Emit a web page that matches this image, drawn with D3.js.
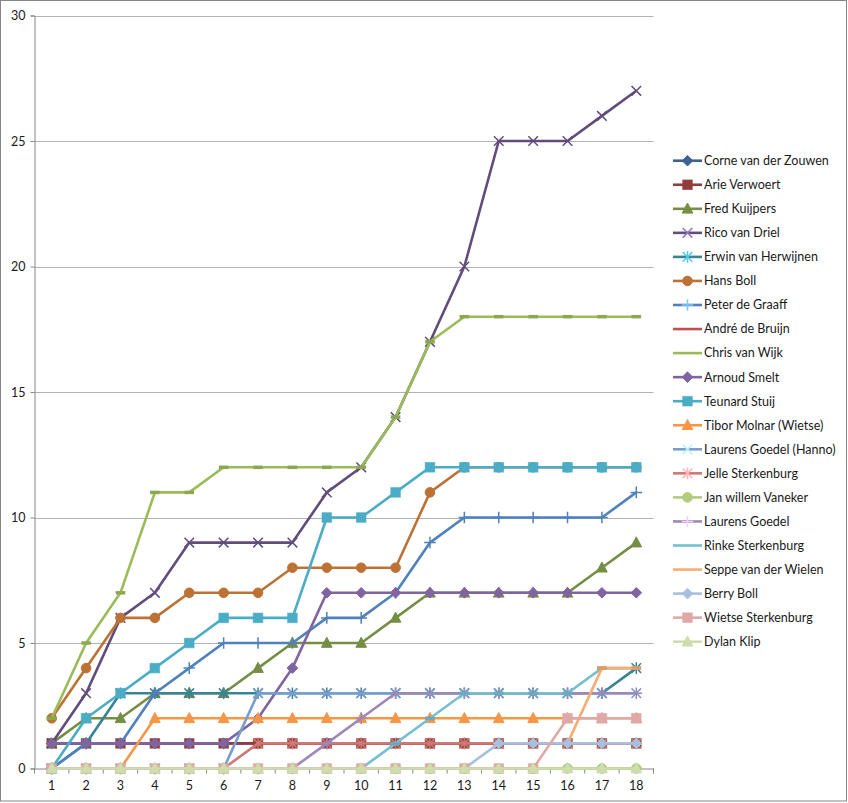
<!DOCTYPE html>
<html>
<head>
<meta charset="utf-8">
<script src="https://cdn.jsdelivr.net/npm/d3@7"></script>
<style>
  body { margin: 0; background: #fff; }
  svg text { font-family: Lato, "Noto Sans", sans-serif; fill: #1a1a1a; }
</style>
</head>
<body>
<div id="chart"></div>
<script>
// rounds 1..18
const categories = [1, 2, 3, 4, 5, 6, 7, 8, 9, 10, 11, 12, 13, 14, 15, 16, 17, 18]
const yTicks = [0, 5, 10, 15, 20, 25, 30]

const names = [
  "Corne van der Zouwen", "Arie Verwoert", "Fred Kuijpers", "Rico van Driel",
  "Erwin van Herwijnen", "Hans Boll", "Peter de Graaff", "André de Bruijn",
  "Chris van Wijk", "Arnoud Smelt", "Teunard Stuij", "Tibor Molnar (Wietse)",
  "Laurens Goedel (Hanno)", "Jelle Sterkenburg", "Jan willem Vaneker",
  "Laurens Goedel", "Rinke Sterkenburg", "Seppe van der Wielen", "Berry Boll",
  "Wietse Sterkenburg", "Dylan Klip"
]

const corne     = [1, 1, 1, 1, 1, 1, 1, 1, 1, 1, 1, 1, 1, 1, 1, 1, 1, 1]
const arie      = [1, 1, 1, 1, 1, 1, 1, 1, 1, 1, 1, 1, 1, 1, 1, 1, 1, 1]
const fred      = [1, 2, 2, 3, 3, 3, 4, 5, 5, 5, 6, 7, 7, 7, 7, 7, 8, 9]
const rico      = [1, 3, 6, 7, 9, 9, 9, 9, 11, 12, 14, 17, 20, 25, 25, 25, 26, 27]
const erwin     = [0, 1, 3, 3, 3, 3, 3, 3, 3, 3, 3, 3, 3, 3, 3, 3, 3, 4]
const hans      = [2, 4, 6, 6, 7, 7, 7, 8, 8, 8, 8, 11, 12, 12, 12, 12, 12, 12]
const peter     = [0, 1, 1, 3, 4, 5, 5, 5, 6, 6, 7, 9, 10, 10, 10, 10, 10, 11]
const andre     = [0, 0, 0, 0, 0, 0, 0, 0, 0, 0, 0, 0, 0, 0, 0, 0, 0, 0]
const chris     = [2, 5, 7, 11, 11, 12, 12, 12, 12, 12, 14, 17, 18, 18, 18, 18, 18, 18]
const arnoud    = [1, 1, 1, 1, 1, 1, 2, 4, 7, 7, 7, 7, 7, 7, 7, 7, 7, 7]
const teunard   = [0, 2, 3, 4, 5, 6, 6, 6, 10, 10, 11, 12, 12, 12, 12, 12, 12, 12]
const tibor     = [0, 0, 0, 2, 2, 2, 2, 2, 2, 2, 2, 2, 2, 2, 2, 2, 2, 2]
const laurensH  = [0, 0, 0, 0, 0, 0, 3, 3, 3, 3, 3, 3, 3, 3, 3, 3, 3, 3]
const jelle     = [0, 0, 0, 0, 0, 0, 1, 1, 1, 1, 1, 1, 1, 1, 1, 1, 1, 1]
const janwillem = [0, 0, 0, 0, 0, 0, 0, 0, 0, 0, 0, 0, 0, 0, 0, 0, 0, 0]
const laurens   = [0, 0, 0, 0, 0, 0, 0, 0, 1, 2, 3, 3, 3, 3, 3, 3, 3, 3]
const rinke     = [0, 0, 0, 0, 0, 0, 0, 0, 0, 0, 1, 2, 3, 3, 3, 3, 4, 4]
const seppe     = [null, null, null, null, null, null, null, null, null, null, null, null, null, null, null, 1, 4, 4]
const berry     = [0, 0, 0, 0, 0, 0, 0, 0, 0, 0, 0, 0, 0, 1, 1, 1, 1, 1]
const wietse    = [0, 0, 0, 0, 0, 0, 0, 0, 0, 0, 0, 0, 0, 0, 0, 2, 2, 2]
const dylan     = [0, 0, 0, 0, 0, 0, 0, 0, 0, 0, 0, 0, 0, 0, 0, 0, 0, 0]

const values = [corne, arie, fred, rico, erwin, hans, peter, andre, chris, arnoud,
  teunard, tibor, laurensH, jelle, janwillem, laurens, rinke, seppe, berry, wietse, dylan]

const colors = [
  "#3c6290", "#923d3b", "#768e44", "#614c7b", "#398397", "#bc7235",
  "#4f81bd", "#c0504d", "#9bbb59", "#8064a2", "#4bacc6", "#f79646",
  "#779ecc", "#cf7876", "#b2cb7f", "#9d88b7", "#75bfd3", "#f9ac71",
  "#a7c0de", "#e0a8a6", "#cdddac"
]
const markerCycle = ["diamond", "square", "triangle", "x", "star", "circle", "plus", "dash", "dash"]

const W = 848, H = 803

const svg = d3.select("#chart").append("svg")
  .attr("width", W).attr("height", H)

// chart area border
svg.append("rect")
  .attr("x", 0.5).attr("y", 0.5)
  .attr("width", W - 2).attr("height", H - 2.5)
  .attr("fill", "#fff").attr("stroke", "#868686")

const x = d3.scaleBand().domain(categories).range([34.5, 653.5])
const y = d3.scaleLinear().domain([0, 30]).range([768.5, 15.5])
const cx = d => x(d) + x.bandwidth() / 2

// gridlines
svg.append("g").selectAll("line")
  .data(yTicks.filter(t => t > 0))
  .join("line")
  .attr("x1", x.range()[0]).attr("x2", x.range()[1])
  .attr("y1", d => Math.round(y(d)) + 0.5).attr("y2", d => Math.round(y(d)) + 0.5)
  .attr("stroke", "#b3b3b3")

// y axis
const yAxis = svg.append("g")
  .attr("transform", `translate(${x.range()[0]},0)`)
  .call(d3.axisLeft(y).tickValues(yTicks).tickSize(4).tickPadding(5))
yAxis.select(".domain").attr("stroke", "#868686")
yAxis.selectAll(".tick line").attr("stroke", "#868686")
yAxis.selectAll("text").style("font-size", "12.5px")

// x axis: labels centred in bands, ticks between categories
const xAxis = svg.append("g")
  .attr("transform", `translate(0,${y(0)})`)
  .call(d3.axisBottom(x).tickSize(0).tickPadding(13))
xAxis.select(".domain").attr("stroke", "#868686")
xAxis.selectAll("text").style("font-size", "12.5px")
xAxis.selectAll(".bound")
  .data(d3.range(categories.length + 1))
  .join("line")
  .attr("class", "bound")
  .attr("x1", i => x.range()[0] + i * x.step()).attr("x2", i => x.range()[0] + i * x.step())
  .attr("y1", 0).attr("y2", 5)
  .attr("stroke", "#868686")

function drawMarker(sel, type, color) {
  const r = 4.8
  if (type == "diamond") {
    sel.append("path").attr("d", `M0,${-r - 0.5}L${r + 0.5},0L0,${r + 0.5}L${-r - 0.5},0Z`)
      .attr("fill", color).attr("stroke", color)
  } else if (type == "square") {
    sel.append("rect").attr("x", -r).attr("y", -r).attr("width", 2 * r).attr("height", 2 * r)
      .attr("fill", color).attr("stroke", color).attr("stroke-opacity", 0.6)
  } else if (type == "triangle") {
    sel.append("path").attr("d", `M0,${-r - 1}L${r + 0.5},${r - 0.5}L${-r - 0.5},${r - 0.5}Z`)
      .attr("fill", color).attr("stroke", color)
  } else if (type == "circle") {
    sel.append("circle").attr("r", r).attr("fill", color).attr("stroke", color)
  } else if (type == "x") {
    sel.append("path").attr("d", `M${-r},${-r}L${r},${r}M${-r},${r}L${r},${-r}`)
      .attr("stroke", color).attr("stroke-width", 1.5).attr("fill", "none")
  } else if (type == "star") {
    sel.append("path").attr("d", `M${-r},${-r}L${r},${r}M${-r},${r}L${r},${-r}M0,${-r - 1}L0,${r + 1}`)
      .attr("stroke", color).attr("stroke-width", 1.5).attr("fill", "none")
  } else if (type == "plus") {
    sel.append("path").attr("d", `M${-r - 1},0L${r + 1},0M0,${-r - 1}L0,${r + 1}`)
      .attr("stroke", color).attr("stroke-width", 1.5).attr("fill", "none")
  } else if (type == "dash") {
    sel.append("path").attr("d", `M${-r},0L${r},0`)
      .attr("stroke", d3.color(color).darker(0.3)).attr("stroke-width", 3.5).attr("fill", "none")
  }
}

const line = d3.line()
  .defined(d => d.v != null)
  .x(d => cx(d.c))
  .y(d => y(d.v))

const series = names.map((name, i) => ({
  name: name,
  color: colors[i],
  marker: markerCycle[i % markerCycle.length],
  points: categories.map((c, j) => ({ c: c, v: values[i][j] }))
}))

const plot = svg.append("g")
series.forEach(s => {
  const g = plot.append("g")
  g.append("path")
    .datum(s.points)
    .attr("d", line)
    .attr("fill", "none")
    .attr("stroke", s.color)
    .attr("stroke-width", 2.6)
    .attr("stroke-linejoin", "round")
  g.selectAll(".m")
    .data(s.points.filter(p => p.v != null))
    .join("g")
    .attr("class", "m")
    .attr("transform", p => `translate(${cx(p.c)},${y(p.v)})`)
    .each(function () { drawMarker(d3.select(this), s.marker, s.color) })
})

// legend
const ly = d3.scalePoint().domain(names).range([160.7, 641.7])
const legend = svg.append("g")
series.forEach(s => {
  const g = legend.append("g").attr("transform", `translate(673,${ly(s.name)})`)
  g.append("line").attr("x1", 0).attr("x2", 29)
    .attr("stroke", s.color).attr("stroke-width", 2.6)
  if (s.marker != "dash") {
    const m = g.append("g").attr("transform", "translate(14.5,0)")
    drawMarker(m, s.marker, ["x", "star", "plus"].includes(s.marker) ? d3.color(s.color).brighter(1.2) : s.color)
  }
  g.append("text")
    .attr("x", 31).attr("dy", "0.35em")
    .style("font-size", "12.5px")
    .text(s.name)
})
</script>
</body>
</html>
